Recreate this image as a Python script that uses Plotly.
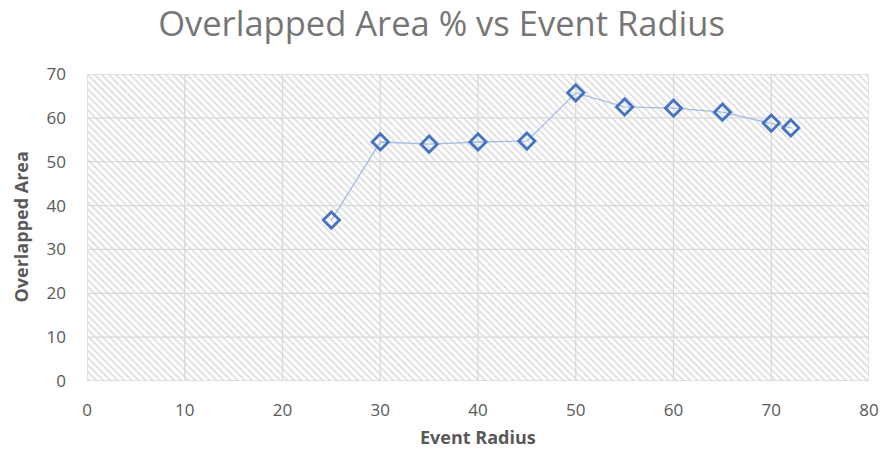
import plotly.graph_objects as go

# Event radius vs overlapped area percentage
event_radius = [25, 30, 35, 40, 45, 50, 55, 60, 65, 70, 72]
overlapped_area = [36.7, 54.5, 54.0, 54.5, 54.7, 65.7, 62.5, 62.2, 61.3, 58.8, 57.7]

x_range = [0, 80]
y_range = [0, 70]
x_ticks = list(range(0, 81, 10))
y_ticks = list(range(0, 71, 10))

grid_color = "#d9d9d9"
text_color = "#595959"

W, H = 883, 449
M = dict(l=87, r=14, t=74, b=68)
plot_w = W - M["l"] - M["r"]
plot_h = H - M["t"] - M["b"]

fig = go.Figure()

# Hatched plot-area background
fig.add_trace(go.Scatter(
    x=[x_range[0], x_range[1], x_range[1], x_range[0], x_range[0]],
    y=[y_range[0], y_range[0], y_range[1], y_range[1], y_range[0]],
    mode="lines",
    line=dict(width=0),
    fill="toself",
    fillcolor="rgba(0,0,0,0)",
    fillpattern=dict(shape="\\", fgcolor="#c2c2c2", bgcolor="rgba(255,255,255,0)",
                     size=5, solidity=0.38),
    hoverinfo="skip",
    showlegend=False,
))

# Gridlines drawn over the hatching
gx, gy = [], []
for t in x_ticks:
    gx += [t, t, None]
    gy += [y_range[0], y_range[1], None]
for t in y_ticks:
    gx += [x_range[0], x_range[1], None]
    gy += [t, t, None]
fig.add_trace(go.Scatter(
    x=gx, y=gy, mode="lines",
    line=dict(color=grid_color, width=1.3),
    hoverinfo="skip", showlegend=False,
))

fig.add_trace(go.Scatter(
    x=event_radius,
    y=overlapped_area,
    mode="lines+markers",
    line=dict(color="#a3bbe6", width=1.3),
    marker=dict(symbol="diamond-open", size=12.5, color="#4472c4",
                line=dict(color="#4472c4", width=2.8)),
    showlegend=False,
))

# Axis titles, placed in pixels relative to the plot area
x_title_px = 437   # vertical centre of the x-axis title
y_title_px = 20    # horizontal centre of the y-axis title
fig.add_annotation(
    text="<b>Event Radius</b>", xref="paper", yref="paper",
    x=0.5, y=-(x_title_px - (H - M["b"])) / plot_h,
    xanchor="center", yanchor="middle", showarrow=False, borderpad=0,
    font=dict(family="Open Sans", size=18, color=text_color),
)
fig.add_annotation(
    text="<b>Overlapped Area</b>", xref="paper", yref="paper",
    x=(y_title_px - M["l"]) / plot_w, y=0.5, textangle=-90,
    xanchor="center", yanchor="middle", showarrow=False, borderpad=0,
    font=dict(family="Open Sans", size=18, color=text_color),
)

fig.update_layout(
    width=W,
    height=H,
    margin=M,
    paper_bgcolor="white",
    plot_bgcolor="white",
    title=dict(
        text="Overlapped Area % vs Event Radius",
        x=0.5, xanchor="center", y=1 - 24 / H, yanchor="middle",
        font=dict(family="Open Sans", size=34.5, color="#767676"),
    ),
    font=dict(family="Open Sans", color=text_color),
    xaxis=dict(
        range=x_range, tickvals=x_ticks, showgrid=False, zeroline=False,
        showline=False, ticks="", tickfont=dict(size=17, color=text_color),
        ticklabelstandoff=17, automargin=False,
    ),
    yaxis=dict(
        range=y_range, tickvals=y_ticks, showgrid=False, zeroline=False,
        showline=False, ticks="", tickfont=dict(size=17, color=text_color),
        ticklabelstandoff=20, automargin=False,
    ),
)

fig.write_html("out.html")
